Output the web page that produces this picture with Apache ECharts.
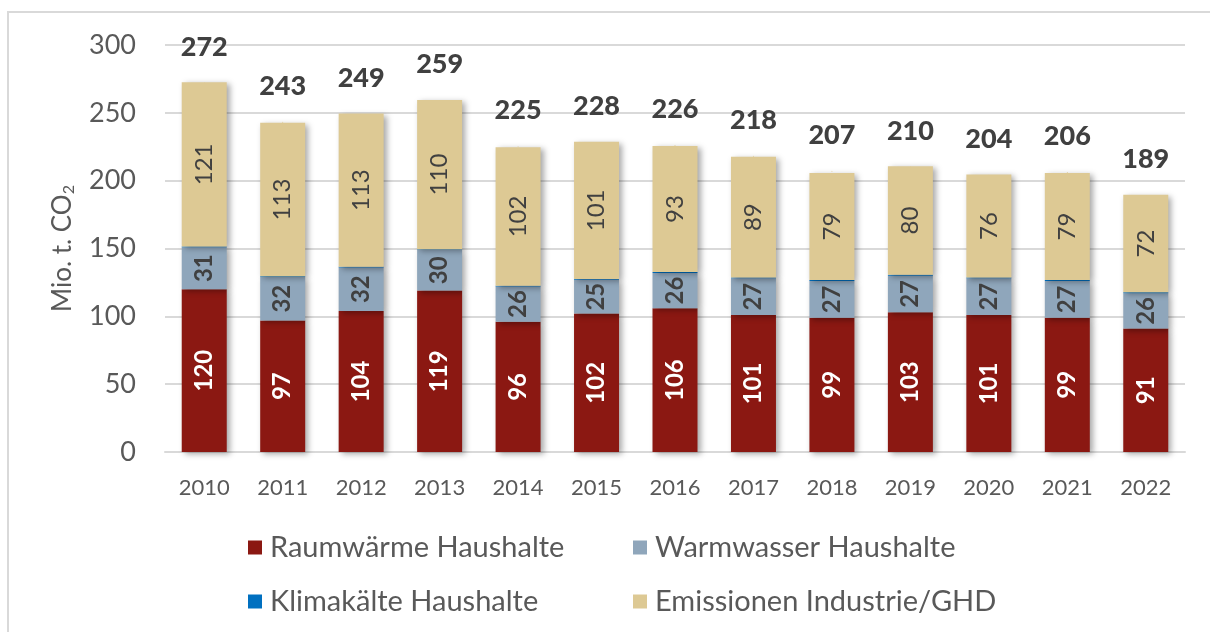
<!DOCTYPE html>
<html>
<head>
<meta charset="utf-8">
<script src="https://cdn.jsdelivr.net/npm/echarts@6/dist/echarts.min.js"></script>
<style>
  html, body { margin: 0; padding: 0; background: #fff; }
  #chart { width: 1210px; height: 632px; }
</style>
</head>
<body>
<div id="chart"></div>
<script>
var years = ['2010', '2011', '2012', '2013', '2014', '2015', '2016', '2017', '2018', '2019', '2020', '2021', '2022'];
var raumwaerme = [120, 97, 104, 119, 96, 102, 106, 101, 99, 103, 101, 99, 91];
var warmwasser = [31, 32, 32, 30, 26, 25, 26, 27, 27, 27, 27, 27, 26];
var klimakaelte = [0.5, 0.6, 0.5, 0.5, 0.6, 0.6, 0.6, 0.6, 0.7, 0.6, 0.6, 0.7, 0.7];
var industrie = [121, 113, 113, 110, 102, 101, 93, 89, 79, 80, 76, 79, 72];
var totals = [272, 243, 249, 259, 225, 228, 226, 218, 207, 210, 204, 206, 189];
var yTicks = [0, 50, 100, 150, 200, 250, 300];

var FONT = 'Lato';
var chart = echarts.init(document.getElementById('chart'));

var barShadow = {
    shadowBlur: 6,
    shadowColor: 'rgba(0, 0, 0, 0.35)',
    shadowOffsetX: 3,
    shadowOffsetY: 2
};

function legendItem(name, left, top) {
    return {
        data: [name],
        left: left,
        top: top,
        icon: 'rect',
        itemWidth: 14,
        itemHeight: 14,
        selectedMode: false,
        textStyle: {
            fontFamily: FONT,
            fontSize: 29,
            color: '#595959',
            padding: [0, 0, 0, 3]
        }
    };
}

chart.setOption({
    animation: false,
    graphic: [{
        type: 'rect',
        shape: { x: 8, y: 12, width: 1400, height: 800 },
        style: { fill: 'none', stroke: '#D9D9D9', lineWidth: 2 },
        silent: true
    }],
    legend: [
        legendItem('Raumwärme Haushalte', 243, 528),
        legendItem('Warmwasser Haushalte', 628, 528),
        legendItem('Klimakälte Haushalte', 243, 582),
        legendItem('Emissionen Industrie/GHD', 628, 582)
    ],
    grid: {
        left: 165,
        right: 25,
        top: 45,
        bottom: 180,
        outerBoundsMode: 'none'
    },
    xAxis: {
        type: 'category',
        data: years,
        axisTick: { show: false },
        axisLine: { lineStyle: { color: '#D9D9D9', width: 2 } },
        axisLabel: {
            fontFamily: FONT,
            fontSize: 22,
            color: '#595959',
            margin: 25
        }
    },
    yAxis: {
        type: 'value',
        min: yTicks[0],
        max: yTicks[yTicks.length - 1],
        interval: 50,
        name: '{a|Mio. t. CO}{b|2}',
        nameLocation: 'middle',
        nameGap: 88,
        nameRotate: 90,
        nameTextStyle: {
            rich: {
                a: { fontFamily: FONT, fontSize: 26, color: '#595959' },
                b: { fontFamily: FONT, fontSize: 16, color: '#595959', verticalAlign: 'bottom', padding: [12, 0, 0, 0] }
            }
        },
        axisLine: { show: false },
        axisTick: { show: false },
        axisLabel: {
            fontFamily: FONT,
            fontSize: 27,
            color: '#595959',
            margin: 29
        },
        splitLine: { lineStyle: { color: '#D9D9D9', width: 2 } }
    },
    series: [
        {
            name: 'Raumwärme Haushalte',
            type: 'bar',
            stack: 'co2',
            barWidth: 45,
            data: raumwaerme,
            itemStyle: Object.assign({ color: '#8B1812' }, barShadow),
            label: {
                show: true,
                position: 'inside',
                rotate: 90,
                fontFamily: FONT,
                fontSize: 24,
                fontWeight: 'bold',
                color: '#FFFFFF'
            }
        },
        {
            name: 'Warmwasser Haushalte',
            type: 'bar',
            stack: 'co2',
            data: warmwasser,
            itemStyle: Object.assign({ color: '#8FA6BB' }, barShadow),
            label: {
                show: true,
                position: 'inside',
                rotate: 90,
                fontFamily: FONT,
                fontSize: 24,
                fontWeight: 'bold',
                color: '#404040'
            }
        },
        {
            name: 'Klimakälte Haushalte',
            type: 'bar',
            stack: 'co2',
            data: klimakaelte,
            itemStyle: { color: '#0070C0' }
        },
        {
            name: 'Emissionen Industrie/GHD',
            type: 'bar',
            stack: 'co2',
            data: industrie,
            itemStyle: Object.assign({ color: '#DDC994' }, barShadow),
            label: {
                show: true,
                position: 'inside',
                rotate: 90,
                fontFamily: FONT,
                fontSize: 24,
                color: '#404040'
            }
        },
        {
            name: 'Summe',
            type: 'scatter',
            data: totals,
            symbolSize: 1,
            itemStyle: { color: '#DDC994', opacity: 1 },
            label: {
                show: true,
                position: 'top',
                distance: 22,
                fontFamily: FONT,
                fontSize: 27,
                fontWeight: 900,
                color: '#404040',
                opacity: 1
            },
            z: 10
        }
    ]
});
</script>
</body>
</html>
